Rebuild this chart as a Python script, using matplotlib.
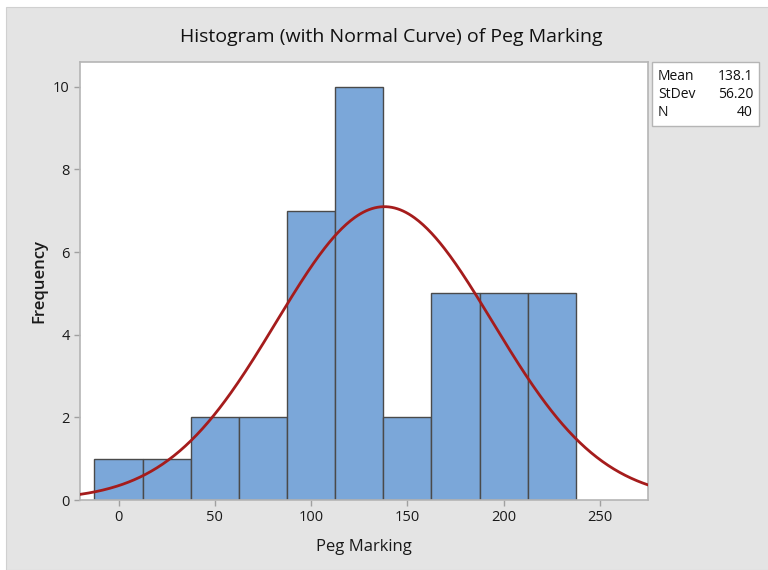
import numpy as np
import matplotlib.pyplot as plt
from matplotlib.patches import Rectangle

# histogram data (bin midpoints, counts)
bin_mids = [0, 25, 50, 75, 100, 125, 150, 175, 200, 225]
counts = [1, 1, 2, 2, 7, 10, 2, 5, 5, 5]
bin_width = 25
mean, stdev, n = 138.1, 56.20, 40
x_ticks = [0, 50, 100, 150, 200, 250]
y_ticks = [0, 2, 4, 6, 8, 10]

plt.rcParams["font.family"] = ["Open Sans", "DejaVu Sans"]

fig = plt.figure(figsize=(7.68, 5.70), dpi=100, facecolor="white")
fig.patches.append(Rectangle((6 / 768, 0), 1, 563 / 570, transform=fig.transFigure,
                             facecolor="#e4e4e4", edgecolor="#d0d0d0", lw=0.8, zorder=-10))

ax = fig.add_axes([80 / 768, 70 / 570, 568 / 768, 438 / 570])
ax.set_facecolor("white")
ax.bar(bin_mids, counts, width=bin_width, color="#7ba7d9", edgecolor="#4a4a4a", linewidth=1.0, zorder=2)

# fitted normal curve from the summary statistics
xs = np.linspace(-20, 275, 400)
ys = n * bin_width / (stdev * np.sqrt(2 * np.pi)) * np.exp(-0.5 * ((xs - mean) / stdev) ** 2)
ax.plot(xs, ys, color="#a51c1c", lw=2.0, zorder=3)

ax.set_xlim(-20, 275)
ax.set_ylim(0, 10.6)
ax.set_xticks(x_ticks)
ax.set_yticks(y_ticks)
ax.tick_params(colors="#a0a0a0", labelcolor="#1a1a1a", labelsize=10.5, length=4, width=1)
for side in ["top", "right", "left", "bottom"]:
    ax.spines[side].set_color("#b5b5b5")
    ax.spines[side].set_linewidth(1.2)

ax.set_xlabel("Peg Marking", fontsize=12, color="#1a1a1a", labelpad=10)
ax.set_ylabel("Frequency", fontsize=12, color="#1a1a1a", fontweight="semibold", labelpad=4)
fig.text(391 / 768, 1 - 37 / 570, "Histogram (with Normal Curve) of Peg Marking",
         ha="center", va="center", fontsize=14, color="#111111")

# stats box
fig.patches.append(Rectangle((652 / 768, 1 - 126 / 570), 107 / 768, 64 / 570, transform=fig.transFigure,
                             facecolor="white", edgecolor="#b5b5b5", lw=1.0, zorder=1))
labels = ["Mean", "StDev", "N"]
values = [f"{mean:.1f}", f"{stdev:.2f}", f"{n}"]
for i, (lab, val) in enumerate(zip(labels, values)):
    y = 1 - (77 + 18 * i) / 570
    fig.text(658 / 768, y, lab, ha="left", va="center", fontsize=10, color="#111111")
    fig.text(753 / 768, y, val, ha="right", va="center", fontsize=10, color="#111111")

fig.savefig("out.png", dpi=100, facecolor="white")
